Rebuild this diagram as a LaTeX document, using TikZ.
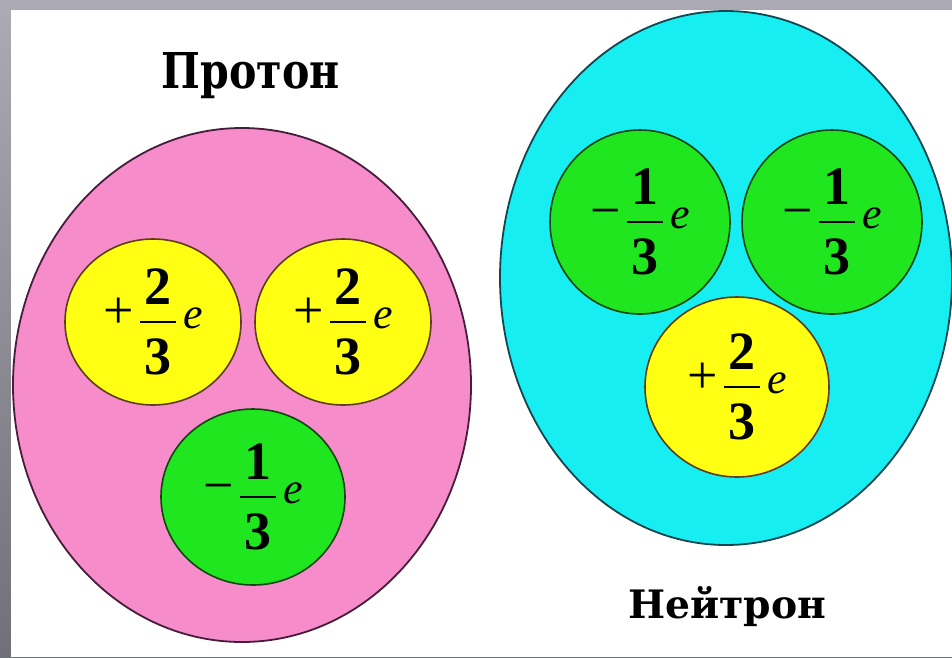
\documentclass[tikz,border=0pt]{standalone}
\usepackage{fontspec}
\setmainfont{Liberation Serif}
\newfontfamily\labelfont{DejaVu Serif}
\usetikzlibrary{shapes.geometric}
\definecolor{pinkfill}{RGB}{246,140,202}
\definecolor{pinkline}{RGB}{70,30,60}
\definecolor{cyanfill}{RGB}{22,238,242}
\definecolor{cyanline}{RGB}{20,70,80}
\definecolor{yelfill}{RGB}{255,255,20}
\definecolor{yelline}{RGB}{95,60,20}
\definecolor{grnfill}{RGB}{32,230,32}
\definecolor{grnline}{RGB}{15,70,15}
\definecolor{frametop}{RGB}{172,170,180}
\definecolor{framebot}{RGB}{112,112,120}
\newcommand\qch[2]{$\mbox{#1}\kern7pt\vcenter{\hbox to 36pt{\hss\bfseries #2\hss}\vskip 16pt\hrule height 2.2pt\vskip 16pt\hbox to 36pt{\hss\bfseries 3\hss}}\kern7pt\mbox{\fontsize{44}{48}\selectfont\itshape e}$}
\tikzset{
  hadron/.style={ellipse, draw, line width=1.8pt, inner sep=0pt},
  quark/.style={ellipse, draw, line width=1.6pt, inner sep=0pt,
    font=\fontsize{54}{60}\selectfont},
  upq/.style={quark, fill=yelfill, draw=yelline},
  downq/.style={quark, fill=grnfill, draw=grnline},
  title/.style={font=\labelfont\bfseries\fontsize{46}{52}\selectfont, anchor=base, inner sep=0pt}
}
\begin{document}
\begin{tikzpicture}[x=1pt,y=-1pt]
\useasboundingbox (0,0) rectangle (952,657);
\shade[top color=frametop, bottom color=framebot] (0,0) rectangle (952,657);
\fill[white] (11,10) rectangle (952,657);
% proton
\node[hadron, fill=pinkfill, draw=pinkline, minimum width=458pt, minimum height=514pt] (proton) at (242,385) {};
\node[upq, minimum width=176pt, minimum height=166pt] (pu1) at (153,322) {\qch{+}{2}};
\node[upq, minimum width=176pt, minimum height=166pt] (pu2) at (343,322) {\qch{+}{2}};
\node[downq, minimum width=184pt, minimum height=176pt] (pd) at (253,497) {\qch{−}{1}};
\node[title] (plabel) at (251,88) {\resizebox{178pt}{36pt}{Протон}};
% neutron
\node[hadron, fill=cyanfill, draw=cyanline, minimum width=452pt, minimum height=534pt] (neutron) at (726,278) {};
\node[downq, minimum width=180pt, minimum height=184pt] (nd1) at (640,222) {\qch{−}{1}};
\node[downq, minimum width=180pt, minimum height=184pt] (nd2) at (832,222) {\qch{−}{1}};
\node[upq, minimum width=184pt, minimum height=180pt] (nu) at (737,387) {\qch{+}{2}};
\node[title] (nlabel) at (727,618) {\resizebox{198pt}{32pt}{Нейтрон}};
\end{tikzpicture}
\end{document}
